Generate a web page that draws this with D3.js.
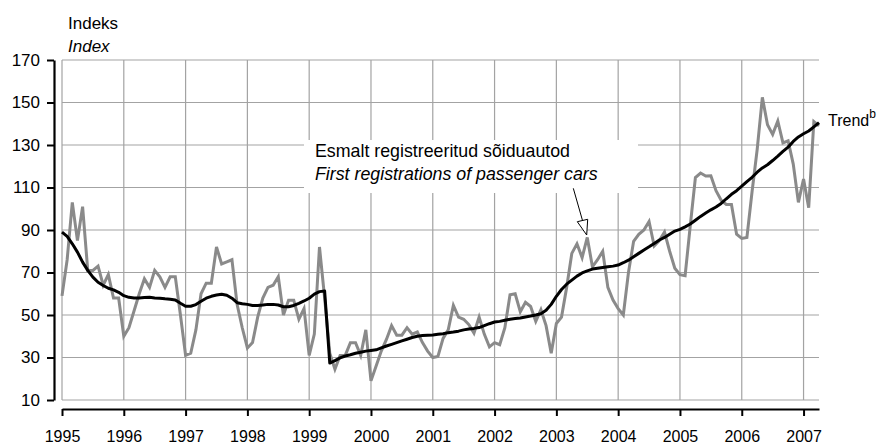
<!DOCTYPE html>
<html>
<head>
<meta charset="utf-8">
<script src="https://cdn.jsdelivr.net/npm/d3@7/dist/d3.min.js"></script>
<style>
  body { margin: 0; background: #fff; }
  svg { display: block; }
  text { font-family: "Liberation Sans", Arial, Helvetica, sans-serif; fill: #000; }
</style>
</head>
<body>
<svg id="chart" width="882" height="444"></svg>
<script>
// Monthly series, January 1995 – April 2007
const startYear = 1995;
const yearTicks = [1995, 1996, 1997, 1998, 1999, 2000, 2001, 2002, 2003, 2004, 2005, 2006, 2007];
const yTicks = [10, 30, 50, 70, 90, 110, 130, 150, 170];

// First registrations of passenger cars (index)
const registrations = [
  59, 76, 103, 85, 101, 71, 71, 73, 64, 69, 58, 58,            // 1995
  40, 44, 52, 60, 67, 63, 71, 68, 63, 68, 68, 50,              // 1996
  31, 32, 43, 60, 65, 65, 82, 74, 75, 76, 55, 44,              // 1997
  34.5, 37, 49, 58, 63, 64, 68, 50, 57, 57, 48, 53,            // 1998
  31, 41, 82, 58, 32, 24.5, 31, 31, 37, 37, 31, 43,            // 1999
  19, 26, 33, 38.5, 45, 40.5, 40.5, 44, 41, 42, 37, 33,        // 2000
  30, 30.5, 39, 43, 54.5, 49, 48, 45.5, 41.5, 49, 41, 35,      // 2001
  37, 36, 44, 59.5, 60, 51.5, 56, 54, 47, 52.5, 45, 32,        // 2002
  46, 49, 63, 79, 83.5, 77, 86.5, 72.7, 76, 80, 63, 57,        // 2003
  53, 50, 70, 84.7, 88, 90, 94, 82.5, 85, 89, 80, 72,          // 2004
  69, 68.5, 92, 114.7, 116.8, 115.4, 115.5, 108.5, 104, 102, 102, 88, // 2005
  86, 86.5, 108, 128, 152.4, 139.5, 135, 141.3, 131, 132, 121, 103,   // 2006
  114, 100.5, 141, 139                                          // 2007
];

// Trend component
const trend = [
  89, 87, 83.5, 79.6, 74.9, 71, 67.8, 65.4, 63.9, 62.6, 61.8, 60.7,
  59.1, 58.3, 58, 58, 58.2, 58.3, 58, 57.9, 57.6, 57.4, 57.1, 55.5,
  54.1, 54.1, 54.9, 56.5, 57.9, 58.8, 59.4, 59.8, 59.3, 57.9, 55.8, 55.3,
  55, 54.5, 54.5, 54.7, 55, 55, 54.7, 53.9, 53.9, 54.5, 55.5, 56.6,
  57.9, 59.8, 61, 61.3, 27.4, 28.5, 29.8, 30.7, 31.3, 32, 32.5, 33,
  33.3, 33.6, 34.5, 35.4, 36.2, 37, 37.8, 38.6, 39.4, 40, 40.3, 40.5,
  40.6, 40.9, 41.2, 41.7, 42, 42.4, 43, 43.4, 43.7, 44.1, 45, 45.9,
  46.7, 47, 47.5, 48, 48.3, 48.6, 49.1, 49.5, 50, 50.6, 52.2, 55,
  58.8, 62, 64.5, 66.4, 68.3, 69.8, 70.8, 71.6, 72, 72.4, 72.7, 73,
  73.5, 74.6, 75.8, 77.4, 79, 80.6, 82.1, 83.7, 85.3, 86.5, 88, 89.5,
  90.3, 91.5, 92.8, 94.6, 96.4, 98, 99.5, 100.8, 102.5, 104.7, 106.8, 108.5,
  110.6, 112.8, 114.8, 117.2, 119.2, 120.7, 122.7, 124.8, 127, 129, 131.7, 133.8,
  135.3, 136.6, 138.5, 140.5
];

const seriesLabel = ["Esmalt registreeritud sõiduautod", "First registrations of passenger cars"];
const axisTitle = ["Indeks", "Index"];

const svg = d3.select("#chart");
const lastT = startYear + (registrations.length - 1) / 12;

const x = d3.scaleLinear().domain([startYear, lastT]).range([62, 819]);
const y = d3.scaleLinear().domain([10, 170]).range([400, 60]);
const tOf = i => startYear + i / 12;

// Grid
const grid = svg.append("g").attr("stroke", "#a3a3a3").attr("stroke-width", 1.2);
grid.selectAll("line.h").data(yTicks).join("line")
  .attr("x1", x(startYear)).attr("x2", x(lastT))
  .attr("y1", d => y(d)).attr("y2", d => y(d));
grid.selectAll("line.v").data(yearTicks).join("line")
  .attr("x1", d => x(d)).attr("x2", d => x(d))
  .attr("y1", y(170)).attr("y2", y(10));

// Label box masks the grid behind the series caption
svg.append("rect").attr("x", 304).attr("y", 140).attr("width", 334).attr("height", 53).attr("fill", "#fff");

// Axes
const yAxis = svg.append("g").attr("transform", "translate(54,0)")
  .call(d3.axisLeft(y).tickValues(yTicks).tickFormat(d3.format("d")).tickSize(7).tickSizeOuter(0).tickPadding(7));
const xAxis = svg.append("g").attr("transform", `translate(0,409)`)
  .call(d3.axisBottom(x).tickValues(yearTicks).tickFormat(d3.format("d")).tickSize(7).tickSizeOuter(0).tickPadding(15));
[yAxis, xAxis].forEach(a => {
  a.select(".domain").attr("stroke", "#000").attr("stroke-width", 2.2);
  a.selectAll(".tick line").attr("stroke", "#000").attr("stroke-width", 2);
  a.selectAll("text").attr("font-size", 16).attr("font-family", null).attr("fill", "#000");
});
yAxis.selectAll("text").attr("font-size", 17);

// Series lines
const line = d3.line().x((d, i) => x(tOf(i))).y(d => y(d));
svg.append("path").datum(registrations).attr("d", line)
  .attr("fill", "none").attr("stroke", "#8a8a8a").attr("stroke-width", 3).attr("stroke-linejoin", "miter");
svg.append("path").datum(trend).attr("d", line)
  .attr("fill", "none").attr("stroke", "#000").attr("stroke-width", 3).attr("stroke-linejoin", "round");

// Axis title
svg.append("text").attr("x", 68).attr("y", 29).attr("font-size", 17).text(axisTitle[0]);
svg.append("text").attr("x", 68).attr("y", 52).attr("font-size", 17).attr("font-style", "italic").text(axisTitle[1]);

// Series caption with arrow
svg.append("text").attr("x", 315).attr("y", 157).attr("font-size", 17.8).text(seriesLabel[0]);
svg.append("text").attr("x", 315).attr("y", 180).attr("font-size", 17.8).attr("font-style", "italic").text(seriesLabel[1]);
svg.append("line").attr("x1", 573.3).attr("y1", 188.3).attr("x2", 582.5).attr("y2", 220.5)
  .attr("stroke", "#000").attr("stroke-width", 1);
svg.append("path").attr("d", "M577.3,221.7 L587.7,219.3 L586.7,235 Z")
  .attr("fill", "#fff").attr("stroke", "#000").attr("stroke-width", 1);

// Trend label
const tl = svg.append("text").attr("x", 828).attr("y", 126).attr("font-size", 16);
tl.append("tspan").text("Trend");
tl.append("tspan").attr("font-size", 12).attr("dy", -8).text("b");
</script>
</body>
</html>
